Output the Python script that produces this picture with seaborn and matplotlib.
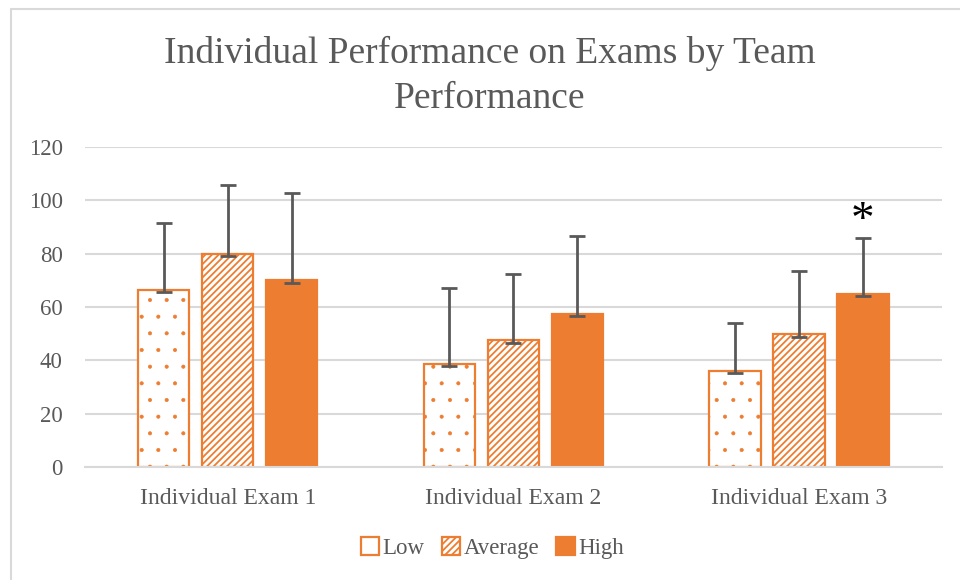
import numpy as np
import pandas as pd
import matplotlib
matplotlib.use("Agg")
import matplotlib.pyplot as plt
from matplotlib.patches import Patch
from matplotlib.lines import Line2D
import seaborn as sns

# values
exams = ["Individual Exam 1", "Individual Exam 2", "Individual Exam 3"]
levels = ["Low", "Average", "High"]
low_mean = [66.5, 38.8, 36.1]
avg_mean = [80.0, 47.6, 49.9]
high_mean = [70.0, 57.5, 65.0]
low_err = [25.0, 28.3, 18.0]
avg_err = [25.8, 24.8, 23.6]
high_err = [32.9, 29.0, 20.9]
star_exam = "Individual Exam 3"

ORANGE = "#ED7D31"
GREY_TXT = "#595959"
GRID = "#D9D9D9"

df = pd.DataFrame({
    "exam": exams * 3,
    "level": [l for l in levels for _ in exams],
    "score": low_mean + avg_mean + high_mean,
    "err": low_err + avg_err + high_err,
})

sns.set_theme(style="white")
plt.rcParams["font.family"] = ["Liberation Serif", "DejaVu Serif"]
plt.rcParams["hatch.color"] = ORANGE
plt.rcParams["hatch.linewidth"] = 1.3

fig = plt.figure(figsize=(9.6, 5.8), dpi=100)
ax = fig.add_axes([0.0885, 0.1948, 0.8925, 0.5518])

sns.barplot(data=df, x="exam", y="score", hue="level", order=exams,
            hue_order=levels, width=0.672, gap=0.2, errorbar=None,
            palette=[ORANGE] * 3, ax=ax, legend=False)

styles = {
    "Low": dict(facecolor="white", hatch=".", hlw=0.45),
    "Average": dict(facecolor="white", hatch="/////", hlw=1.3),
    "High": dict(facecolor=ORANGE, hatch=None, hlw=1.3),
}

bars = [p for p in ax.patches if p.get_height() > 0]
for i, p in enumerate(bars):
    st = styles[levels[i // len(exams)]]
    p.set_facecolor(st["facecolor"])
    p.set_edgecolor(ORANGE)
    p.set_linewidth(1.6)
    if st["hatch"]:
        p.set_hatch(st["hatch"])
        try:
            p.set_hatch_linewidth(st["hlw"])
        except AttributeError:
            pass

# error bars (positive direction, Excel style)
for i, p in enumerate(bars):
    row = df.iloc[i]
    xc = p.get_x() + p.get_width() / 2
    ax.errorbar(xc, row["score"], yerr=[[1.0], [row["err"]]], fmt="none",
                ecolor=GREY_TXT, elinewidth=2, capsize=6, capthick=2, zorder=5)
    if row["exam"] == star_exam and row["level"] == "High":
        ax.text(xc, row["score"] + row["err"] + 6, "*", ha="center",
                va="center", fontsize=34, color="black")

ax.set_ylim(0, 120)
ax.set_yticks(range(0, 121, 20))
ax.set_xlim(-0.5, 2.5)
ax.grid(axis="y", color=GRID, linewidth=1.5)
ax.set_axisbelow(True)
for s in ["top", "right", "left"]:
    ax.spines[s].set_visible(False)
ax.spines["bottom"].set_color(GRID)
ax.spines["bottom"].set_linewidth(1.5)
ax.tick_params(axis="y", length=0, pad=16, labelsize=16.5, labelcolor=GREY_TXT)
ax.tick_params(axis="x", length=0, pad=15, labelsize=17, labelcolor=GREY_TXT)
ax.set_xlabel("")
ax.set_ylabel("")

fig.text(0.51, 0.869, "Individual Performance on Exams by Team\nPerformance",
         ha="center", va="center", fontsize=27, color=GREY_TXT, linespacing=1.38)

handles = []
for l in levels:
    h = Patch(facecolor=styles[l]["facecolor"], edgecolor=ORANGE,
              hatch=styles[l]["hatch"] if l == "Average" else None,
              linewidth=1.6, label=l)
    handles.append(h)
leg = fig.legend(handles=handles, loc="center", bbox_to_anchor=(0.513, 0.055),
                 ncol=3, frameon=False, fontsize=16.5, handlelength=0.8,
                 handleheight=0.8, handletextpad=0.15, columnspacing=0.75,
                 labelcolor=GREY_TXT)

# chart border (top and left edges visible)
fig.add_artist(Line2D([11 / 960, 1], [1 - 8.5 / 580] * 2, color=GRID,
                      linewidth=1.5, transform=fig.transFigure))
fig.add_artist(Line2D([11 / 960] * 2, [0, 1 - 8.5 / 580], color=GRID,
                      linewidth=1.5, transform=fig.transFigure))

fig.savefig("out.png", dpi=100)
